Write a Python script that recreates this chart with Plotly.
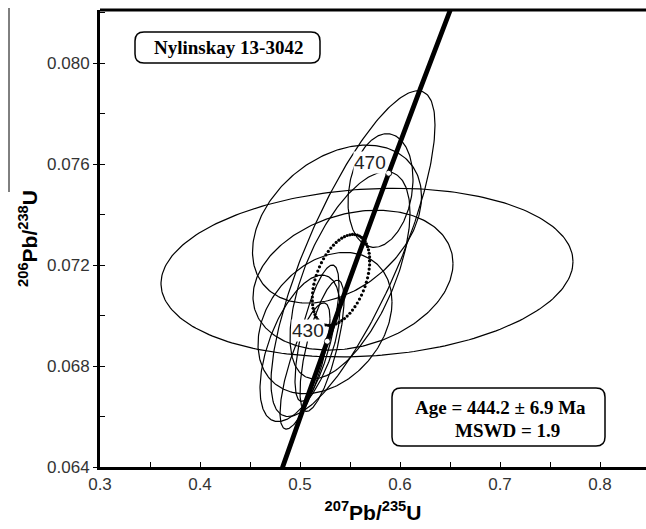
import numpy as np
import plotly.graph_objects as go

# ---------------- data ----------------
# analytical ellipses: centre (207Pb/235U, 206Pb/238U), half-extents and error correlation
ell_cx  = [0.567, 0.553, 0.537, 0.553, 0.5805, 0.550, 0.525, 0.500, 0.517, 0.522, 0.505]
ell_cy  = [0.0717, 0.0714, 0.07362, 0.07245, 0.07495, 0.0716, 0.0697, 0.0687, 0.0693, 0.0688, 0.0680]
ell_ax  = [0.206, 0.100, 0.0845, 0.082, 0.0325, 0.060, 0.067, 0.040, 0.022, 0.022, 0.025]
ell_ay  = [0.00334, 0.00277, 0.00313, 0.00645, 0.00225, 0.0041, 0.0028, 0.0029, 0.0027, 0.0026, 0.0025]
ell_rho = [0.13, 0.24, 0.35, 0.79, 0.20, 0.60, 0.30, 0.55, 0.70, 0.70, 0.75]

# concordia mean ellipse (dotted)
mean_cx, mean_cy, mean_ax, mean_ay, mean_rho = 0.541, 0.07141, 0.0287, 0.00180, 0.42

# concordia curve (ages in Ma)
conc_age = [390, 400, 430, 450, 470, 490, 510]
conc_x   = [0.46828, 0.48281, 0.52728, 0.55766, 0.58864, 0.62024, 0.65247]
conc_y   = [0.062366, 0.064016, 0.068979, 0.072300, 0.075633, 0.078975, 0.082327]

# labelled ages on concordia
mark_age = ["430", "470"]
mark_x   = [0.52728, 0.58864]
mark_y   = [0.068979, 0.075633]

x_ticks = [0.3, 0.4, 0.5, 0.6, 0.7, 0.8]
y_ticks = [0.064, 0.068, 0.072, 0.076, 0.080]

sample_name = "Nylinskay 13-3042"
age_text = ["Age = 444.2 ± 6.9 Ma", "MSWD = 1.9"]

# ---------------- figure ----------------
W, H = 646, 529
L, R, T, B = 100, 0, 10, 62
PW, PH = W - L - R, H - T - B


def px(xp):
    return (xp - L) / PW


def py(yp):
    return (H - B - yp) / PH


def ellipse(cx, cy, ax, ay, rho, n=240):
    t = np.linspace(0, 2 * np.pi, n)
    x = cx + ax * np.cos(t)
    y = cy + ay * (rho * np.cos(t) + np.sqrt(1 - rho ** 2) * np.sin(t))
    return x, y


fig = go.Figure()

for cx, cy, ax, ay, rho in zip(ell_cx, ell_cy, ell_ax, ell_ay, ell_rho):
    ex, ey = ellipse(cx, cy, ax, ay, rho)
    fig.add_trace(go.Scatter(x=ex, y=ey, mode="lines",
                             line=dict(color="black", width=1.2),
                             hoverinfo="skip", showlegend=False))

mx, my = ellipse(mean_cx, mean_cy, mean_ax, mean_ay, mean_rho, n=66)
fig.add_trace(go.Scatter(x=mx, y=my, mode="markers",
                         marker=dict(color="black", size=3.2),
                         hoverinfo="skip", showlegend=False))

fig.add_trace(go.Scatter(x=conc_x, y=conc_y, mode="lines",
                         line=dict(color="black", width=4.8, shape="spline"),
                         hoverinfo="skip", showlegend=False))

fig.add_trace(go.Scatter(x=mark_x, y=mark_y, mode="markers",
                         marker=dict(color="white", size=6,
                                     line=dict(color="black", width=1)),
                         hoverinfo="skip", showlegend=False))

for lab, x, y in zip(mark_age, mark_x, mark_y):
    fig.add_annotation(x=x, y=y, xref="x", yref="y", text=lab,
                       showarrow=False, xanchor="right", yanchor="bottom",
                       xshift=-2, yshift=-1, bgcolor="white", borderpad=0,
                       font=dict(family="Liberation Sans", size=19, color="#222"))


def rrect(x0, y0, x1, y1, r):
    # pixel coordinates -> paper path with rounded corners
    X0, X1 = px(x0), px(x1)
    Y0, Y1 = py(y0), py(y1)
    rx, ry = r / PW, r / PH
    return (f"M {X0+rx},{Y0} L {X1-rx},{Y0} Q {X1},{Y0} {X1},{Y0-ry} "
            f"L {X1},{Y1+ry} Q {X1},{Y1} {X1-rx},{Y1} "
            f"L {X0+rx},{Y1} Q {X0},{Y1} {X0},{Y1+ry} "
            f"L {X0},{Y0-ry} Q {X0},{Y0} {X0+rx},{Y0} Z")


fig.add_shape(type="path", xref="paper", yref="paper",
              path=rrect(135, 32, 320, 63, 9),
              line=dict(color="black", width=1.5), fillcolor="white", layer="above")
fig.add_annotation(xref="paper", yref="paper", x=px(228), y=py(48),
                   xanchor="center", yanchor="middle",
                   text=f"<b>{sample_name}</b>", showarrow=False,
                   font=dict(family="Liberation Serif", size=19, color="black"))

fig.add_shape(type="path", xref="paper", yref="paper",
              path=rrect(392, 388, 605, 446, 9),
              line=dict(color="black", width=1.5), fillcolor="white", layer="above")
fig.add_annotation(xref="paper", yref="paper", x=px(500), y=py(407),
                   xanchor="center", yanchor="middle",
                   text=f"<b>{age_text[0]}</b>", showarrow=False,
                   font=dict(family="Liberation Serif", size=19, color="black"))
fig.add_annotation(xref="paper", yref="paper", x=px(507), y=py(430),
                   xanchor="center", yanchor="middle",
                   text=f"<b>{age_text[1]}</b>", showarrow=False,
                   font=dict(family="Liberation Serif", size=19, color="black"))

# top frame line
fig.add_shape(type="line", xref="paper", yref="paper", x0=0, x1=1.01, y0=1, y1=1,
              line=dict(color="black", width=3), layer="above")
# thin stray vertical line at far left
fig.add_shape(type="line", xref="paper", yref="paper", x0=px(9), x1=px(9),
              y0=py(8), y1=py(192), line=dict(color="black", width=1))

fig.update_layout(
    width=W, height=H,
    margin=dict(l=L, r=R, t=T, b=B),
    paper_bgcolor="white", plot_bgcolor="white",
    xaxis=dict(range=[0.3, 0.846], tickvals=x_ticks, ticktext=[f"{v:.1f}" for v in x_ticks],
               showgrid=False, zeroline=False, showline=True, linecolor="black", linewidth=3,
               ticks="inside", ticklen=5, tickcolor="black", tickwidth=1,
               minor=dict(dtick=0.05, tick0=0.3, ticks="inside", ticklen=5, tickcolor="black"),
               tickfont=dict(family="Liberation Sans", size=17, color="#333"),
               title=dict(text="<b><sup>207</sup>Pb/<sup>235</sup>U</b>", standoff=12,
                          font=dict(family="Liberation Sans", size=21, color="black"))),
    yaxis=dict(range=[0.064, 0.0821], tickvals=y_ticks, ticktext=[f"{v:.3f}" for v in y_ticks],
               showgrid=False, zeroline=False, showline=True, linecolor="black", linewidth=3,
               ticks="outside", ticklen=4, tickcolor="black", tickwidth=1,
               minor=dict(dtick=0.002, tick0=0.064, ticks="inside", ticklen=5, tickcolor="black"),
               tickfont=dict(family="Liberation Sans", size=17, color="#333"),
               title=dict(text="<b><sup>206</sup>Pb/<sup>238</sup>U</b>", standoff=4,
                          font=dict(family="Liberation Sans", size=21, color="black"))),
)

fig.write_html("out.html")
